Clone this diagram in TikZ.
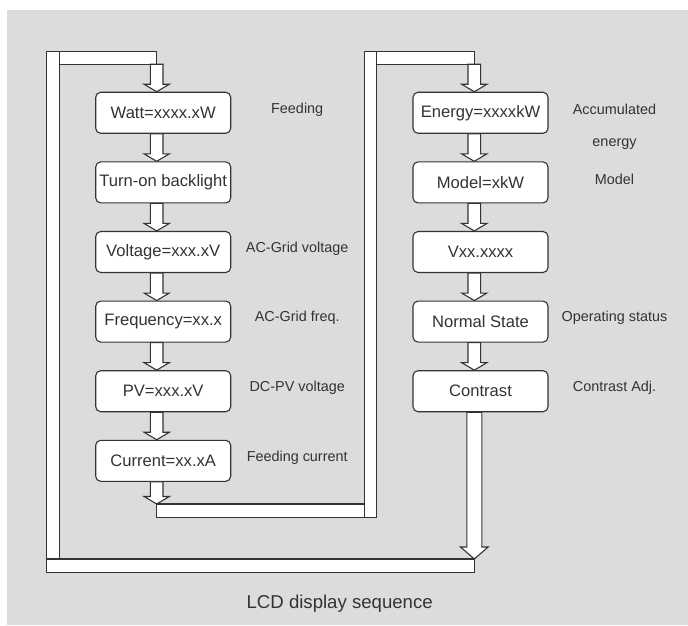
\documentclass[tikz,border=0pt]{standalone}
\usepackage{fontspec}
\setmainfont{Liberation Sans}
\usetikzlibrary{positioning,calc}
\definecolor{panelgray}{HTML}{DCDCDE}
\definecolor{inkgray}{HTML}{333333}
\tikzset{
    screen/.style={draw=inkgray,line width=1.1pt,rounded corners=5pt,fill=white,
        minimum width=135pt,minimum height=41pt,inner sep=2pt,text=inkgray,
        font=\fontsize{16.6}{19}\selectfont},
    note/.style={text=inkgray,inner sep=0pt,font=\fontsize{14.4}{17}\selectfont},
    pipe/.style={draw=inkgray,line width=1.1pt,fill=white},
}
% hollow block arrow: from, to (tip), half shaft width, head length
\newcommand{\fatarrow}[4]{%
    \path #1 coordinate (fa-s) #2 coordinate (fa-e);
    \draw[pipe] ($(fa-s)+(-#3,0)$) -- ($(fa-e)+(-#3,#4)$) -- ($(fa-e)+({-#3-6.3},#4)$) -- (fa-e)
        -- ($(fa-e)+({#3+6.3},#4)$) -- ($(fa-e)+(#3,#4)$) -- ($(fa-s)+(#3,0)$) -- cycle;}
\begin{document}
\begin{tikzpicture}[x=1pt,y=1pt]
        \useasboundingbox (0,0) rectangle (688,625);
        \fill[panelgray] (7,0) rectangle (688,615);
        %% return pipes
        \draw[pipe] (46.7,66) rectangle (59.3,573.3);
        \draw[pipe] (59.3,560.7) rectangle (156.7,573.3);
        \draw[pipe] (46.7,52.3) rectangle (474.3,66);
        \draw[pipe] (364.3,107.7) rectangle (376.7,573.3);
        \draw[pipe] (156.7,107.7) rectangle (364.3,121);
        \draw[pipe] (376.7,560.7) rectangle (474.3,573.3);
        \coordinate (colL) at (156.7,0);
        \coordinate (colR) at (474.3,0);
        \coordinate (inL) at (156.7,560.7);
        \coordinate (inR) at (474.3,560.7);
        \coordinate (outL) at (156.7,121);
        \coordinate (outR) at (474.3,66);
        %% left column
        \node[screen] (watt) at (163.2,512.2) {Watt=xxxx.xW};
        \node[screen,below=27.5 of watt] (backlight) {Turn-on backlight};
        \node[screen,below=27.5 of backlight] (voltage) {Voltage=xxx.xV};
        \node[screen,below=27.5 of voltage] (freq) {Frequency=xx.x};
        \node[screen,below=27.5 of freq] (pv) {PV=xxx.xV};
        \node[screen,below=27.5 of pv] (current) {Current=xx.xA};
        %% right column
        \node[screen] (energy) at (480.5,512.2) {Energy=xxxxkW};
        \node[screen,below=27.5 of energy] (model) {Model=xkW};
        \node[screen,below=27.5 of model] (version) {Vxx.xxxx};
        \node[screen,below=27.5 of version] (state) {Normal State};
        \node[screen,below=27.5 of state] (contrast) {Contrast};
        %% arrows
        \fatarrow{(inL)}{(watt.north -| colL)}{6.3}{7.5}
        \foreach \a/\b in {watt/backlight,backlight/voltage,voltage/freq,freq/pv,pv/current} {
            \fatarrow{(\a.south -| colL)}{(\b.north -| colL)}{6.3}{7.5}
        }
        \fatarrow{(current.south -| colL)}{(outL)}{6.3}{7.5}
        \fatarrow{(inR)}{(energy.north -| colR)}{6.3}{7.5}
        \foreach \a/\b in {energy/model,model/version,version/state,state/contrast} {
            \fatarrow{(\a.south -| colR)}{(\b.north -| colR)}{6.3}{7.5}
        }
        \fatarrow{(contrast.south -| colR)}{(outR)}{7.5}{12}
        %% notes
        \node[note] (wattN) at ($(watt)+(134,3.5)$) {Feeding};
        \node[note] (voltageN) at ($(voltage)+(134,3.5)$) {AC-Grid voltage};
        \node[note] (freqN) at ($(freq)+(134,3.5)$) {AC-Grid freq.};
        \node[note] (pvN) at ($(pv)+(134,3.5)$) {DC-PV voltage};
        \node[note] (currentN) at ($(current)+(134,3.5)$) {Feeding current};
        \node[note] (energyN) at ($(energy)+(134,3.5)$) {Accumulated};
        \node[note] (energyN2) at ($(energy)+(134,-31.2)$) {energy};
        \node[note] (modelN) at ($(model)+(134,3.5)$) {Model};
        \node[note] (stateN) at ($(state)+(134,3.5)$) {Operating status};
        \node[note] (contrastN) at ($(contrast)+(134,3.5)$) {Contrast Adj.};
        \node[text=inkgray,font=\fontsize{18.6}{22}\selectfont] (caption) at (339.7,21.7) {LCD display sequence};
    \end{tikzpicture}
\end{document}
